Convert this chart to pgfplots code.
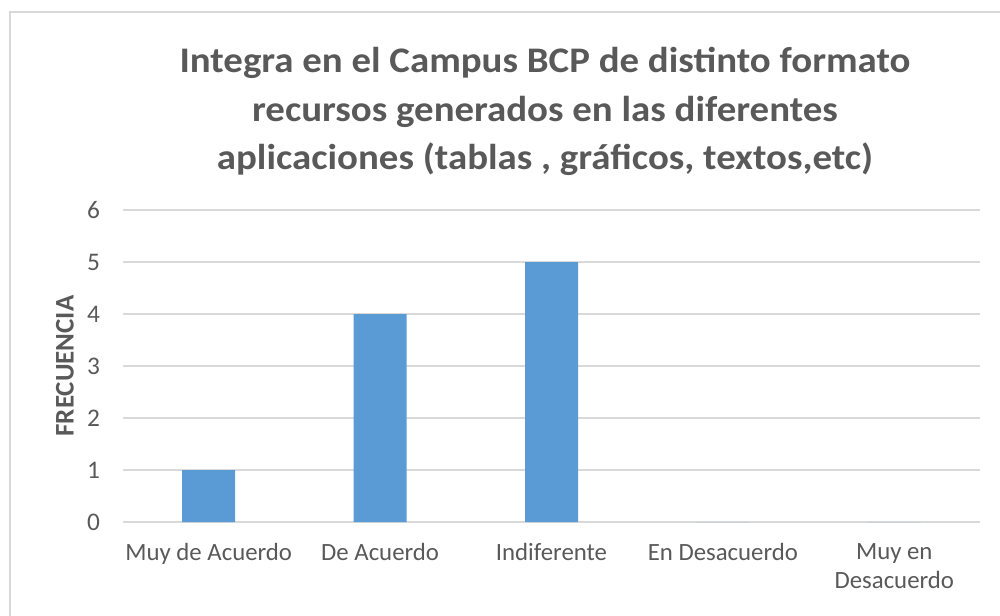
\documentclass[border=0pt]{standalone}
\usepackage{fontspec}
\setmainfont{Carlito}
\newfontfamily\titlefont[FakeStretch=1.08]{Carlito}
\usepackage{pgfplots}
\pgfplotsset{compat=1.18}
\definecolor{txt}{HTML}{595959}
\definecolor{gridc}{HTML}{D9D9D9}
\definecolor{barc}{HTML}{5B9BD5}
\begin{document}
\begin{tikzpicture}
\useasboundingbox (0,0) rectangle (750pt,461.25pt);
% chart area frame (right and bottom edges fall outside the page)
\draw[gridc, line width=1.5pt] (7.5pt,-20pt) rectangle (770pt,452.25pt);
\begin{axis}[
  at={(92.25pt,69.75pt)}, anchor=south west,
  scale only axis, width=642.75pt, height=234pt,
  ybar, bar width=39.75pt,
  xmin=-0.5, xmax=4.5, ymin=0, ymax=6,
  xtick=data,
  xticklabels={Muy de Acuerdo, De Acuerdo, Indiferente, En Desacuerdo, {Muy en\\Desacuerdo}},
  ytick={0,1,...,6},
  axis line style={draw=none},
  major tick length=0pt,
  ymajorgrids,
  grid style={gridc, line width=1.5pt},
  /pgf/number format/assume math mode=true,
  xticklabel style={font=\fontsize{18.6}{22}\selectfont, text=txt, align=center, anchor=north, inner sep=0pt, yshift=-16pt},
  yticklabel style={font=\fontsize{19}{22}\selectfont, text=txt, anchor=east, inner sep=0pt, xshift=-17pt},
  ylabel={FRECUENCIA},
  ylabel style={font=\bfseries\fontsize{20.2}{23}\selectfont, text=txt, at={(axis description cs:-0.0677,0.5)}, anchor=center},
  title={Integra en el Campus BCP de distinto formato\\recursos generados en las diferentes\\aplicaciones (tablas , gráficos, textos,etc)},
  title style={font=\titlefont\bfseries\fontsize{27}{36.5}\selectfont, text=txt, align=center, at={(axis description cs:0.4924,1.29)}, anchor=center},
]
\addplot[fill=barc, draw=none] coordinates {(0,1) (1,4) (2,5) (3,0) (4,0)};
\end{axis}
\end{tikzpicture}
\end{document}
